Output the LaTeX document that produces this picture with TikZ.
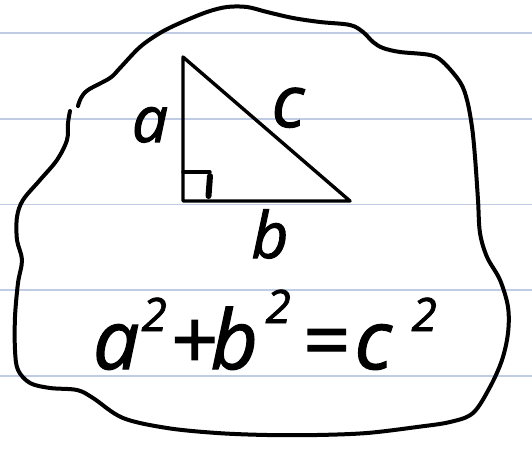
\documentclass[tikz,border=0pt]{standalone}
\usepackage{fontspec}
\newfontfamily\handfont[FakeBold=1.6]{Open Sans}
\usetikzlibrary{positioning}
\definecolor{ruleblue}{HTML}{BFCCE3}
\definecolor{ink}{HTML}{000000}

% glyph centred at a given offset, and a raised square
\newcommand\glyphat[2]{\makebox[0pt][l]{\hspace*{#1}\makebox[0pt]{#2}}}
\newcommand\sqr[1]{\raisebox{#1}{\fontsize{46}{46}\selectfont 2}}

\begin{document}
\begin{tikzpicture}[
    x=1pt, y=-1pt,
    rule/.style={draw=ruleblue, line width=1.6pt},
    outline/.style={draw=ink, line width=4pt, line cap=round, line join=round},
    leg/.style={draw=ink, line width=3.4pt, line join=round, line cap=round},
    hand/.style={font=\handfont\itshape\fontsize{64}{64}\selectfont, inner sep=0pt, text=ink},
    formula/.style={hand, font=\handfont\itshape\fontsize{82}{82}\selectfont},
]
    \useasboundingbox[fill=white] (0,0) rectangle (532,449);

    % =====================================================================
    % Ruled paper
    % =====================================================================
    \foreach \yy in {33.3, 118.9, 204.5, 290.1, 375.7}
        \draw[rule] (0,\yy) -- (532,\yy);

    % =====================================================================
    % Hand drawn cloud
    % =====================================================================
    \draw[outline] plot[smooth, tension=0.55] coordinates {
        (78,106) (81,98) (88,90) (110,78) (120,68) (140,47) (160,33) (180,23)
        (207,12) (227,7) (247,7) (267,12) (293,18) (320,22) (350,25) (363,32)
        (373,42) (383,48) (400,52) (430,55) (443,62) (460,82) (467,100)
        (472,127) (475,157) (478,200) (480,233) (487,257) (500,280) (508,307)
        (508,333) (502,360) (490,387) (473,413) (450,422) (417,427) (367,433)
        (317,435) (267,435) (217,433) (167,428) (123,418) (93,398) (77,390)
        (50,388) (30,383) (18,370) (15,350) (15,317) (18,283) (22,260)
        (17,240) (17,217) (23,200) (40,180) (57,160) (67,140) (68,123) (70,111)};

    % =====================================================================
    % Right triangle
    % =====================================================================
    \coordinate (apex) at (183,57);
    \coordinate (corner) at (183,201);
    \coordinate (tip) at (350,201);
    \draw[leg] (apex) -- (corner) -- (tip) -- cycle;

    % right angle mark
    \coordinate (marktop) at (183,172);
    \coordinate (markend) at (210,172);
    \draw[leg] (marktop) -- (markend);
    \draw[ink, line width=6pt, line cap=round] (210,176) -- (208.5,196);

    % side labels
    \node[hand, anchor=base] (lbla) at (150,142) {a};
    \node[hand, anchor=base, font=\handfont\itshape\fontsize{72}{72}\selectfont] (lblc) at (288,127) {c};
    \node[hand, anchor=base] (lblb) at (270,258) {b};

    % =====================================================================
    % Pythagoras
    % =====================================================================
    \node[formula, anchor=base west] (pyth) at (0,369) {\makebox[450pt][l]{%
        \glyphat{116pt}{a}\glyphat{154pt}{\sqr{38pt}}\glyphat{193pt}{+}%
        \glyphat{234pt}{b}\glyphat{278pt}{\sqr{46pt}}\glyphat{325pt}{=}%
        \glyphat{373pt}{c}\glyphat{424pt}{\sqr{38pt}}}};

\end{tikzpicture}
\end{document}
